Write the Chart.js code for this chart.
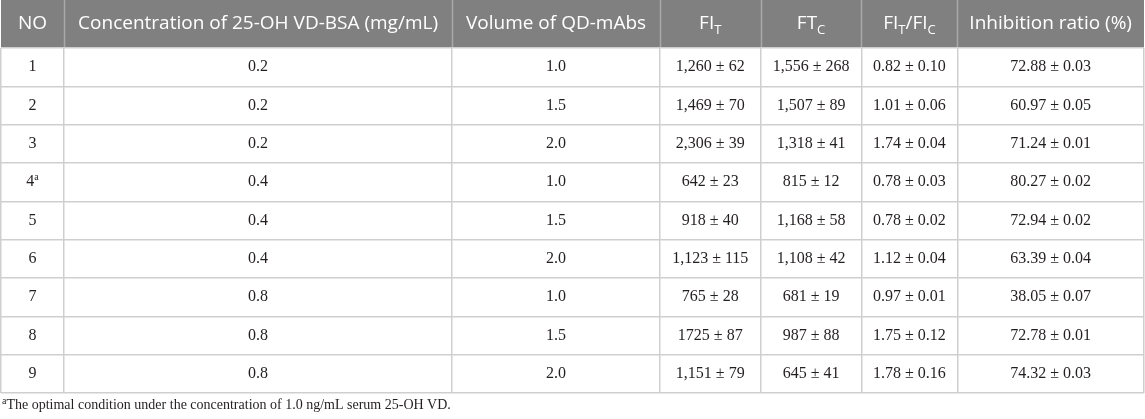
<!DOCTYPE html>
<html>
<head>
<meta charset="utf-8">
<script src="https://cdn.jsdelivr.net/npm/chart.js@4.4.0/dist/chart.umd.min.js"></script>
<style>
  html, body { margin: 0; padding: 0; background: #fff; }
  #wrap { width: 1145px; height: 419px; position: relative; }
</style>
</head>
<body>
<div id="wrap"><canvas id="chart"></canvas></div>

<script>
    // table data
    var rowLabels = ['1', '2', '3', '4', '5', '6', '7', '8', '9'];
    var concentration = ['0.2', '0.2', '0.2', '0.4', '0.4', '0.4', '0.8', '0.8', '0.8'];
    var volume = ['1.0', '1.5', '2.0', '1.0', '1.5', '2.0', '1.0', '1.5', '2.0'];
    var fiT = ['1,260 ± 62', '1,469 ± 70', '2,306 ± 39', '642 ± 23', '918 ± 40',
               '1,123 ± 115', '765 ± 28', '1725 ± 87', '1,151 ± 79'];
    var ftC = ['1,556 ± 268', '1,507 ± 89', '1,318 ± 41', '815 ± 12', '1,168 ± 58',
               '1,108 ± 42', '681 ± 19', '987 ± 88', '645 ± 41'];
    var ratio = ['0.82 ± 0.10', '1.01 ± 0.06', '1.74 ± 0.04', '0.78 ± 0.03', '0.78 ± 0.02',
                 '1.12 ± 0.04', '0.97 ± 0.01', '1.75 ± 0.12', '1.78 ± 0.16'];
    var inhibition = ['72.88 ± 0.03', '60.97 ± 0.05', '71.24 ± 0.01', '80.27 ± 0.02', '72.94 ± 0.02',
                      '63.39 ± 0.04', '38.05 ± 0.07', '72.78 ± 0.01', '74.32 ± 0.03'];
    var noteRow = '4';
    var footnote = 'The optimal condition under the concentration of 1.0 ng/mL serum 25-OH VD.';

    // header text, as runs: [text, 'sub'|'sup'|null]
    var headers = [
        [['NO']],
        [['Concentration of 25-OH VD-BSA (mg/mL)']],
        [['Volume of QD-mAbs']],
        [['FI'], ['T', 'sub']],
        [['FT'], ['C', 'sub']],
        [['FI'], ['T', 'sub'], ['/FI'], ['C', 'sub']],
        [['Inhibition ratio (%)']]
    ];

    // layout: column edges along the x scale
    var colEdges = [0, 63, 452, 660, 761, 862, 958, 1145];
    var columns = [rowLabels, concentration, volume, fiT, ftC, ratio, inhibition];

    var HEAD_H = 48;
    var BODY_FONT = '16px "Liberation Serif"';
    var BODY_SMALL = '10px "Liberation Serif"';
    var HEAD_FONT = '19px "Open Sans"';
    var HEAD_SMALL = '13px "Open Sans"';

    function drawRuns(ctx, runs, cx, cy, font, small) {
        var w = 0;
        runs.forEach(function(r) {
            ctx.font = r[1] ? small : font;
            w += ctx.measureText(r[0]).width;
        });
        var x = cx - w / 2;
        ctx.textAlign = 'left';
        ctx.textBaseline = 'middle';
        runs.forEach(function(r) {
            ctx.font = r[1] ? small : font;
            var dy = r[1] === 'sub' ? 6 : (r[1] === 'sup' ? -5 : 0);
            ctx.fillText(r[0], x, cy + dy);
            x += ctx.measureText(r[0]).width;
        });
    }

    var tablePlugin = {
        id: 'table',
        beforeDraw: function(chart) {
            var ctx = chart.ctx;
            var xs = chart.scales.x;
            var left = xs.getPixelForValue(colEdges[0]);
            var right = xs.getPixelForValue(colEdges[colEdges.length - 1]);
            var top = chart.chartArea.top;
            ctx.save();
            ctx.fillStyle = '#808080';
            ctx.fillRect(left, 0, right - left, top);
            ctx.strokeStyle = '#a9a9a9';
            ctx.lineWidth = 1.5;
            for (var i = 1; i < colEdges.length - 1; i++) {
                var px = Math.round(xs.getPixelForValue(colEdges[i])) + 0.5;
                ctx.beginPath();
                ctx.moveTo(px, 0);
                ctx.lineTo(px, top);
                ctx.stroke();
            }
            ctx.fillStyle = '#ffffff';
            headers.forEach(function(runs, i) {
                var cx = xs.getPixelForValue((colEdges[i] + colEdges[i + 1]) / 2);
                drawRuns(ctx, runs, cx, top / 2, HEAD_FONT, HEAD_SMALL);
            });
            ctx.restore();
        },
        afterDatasetsDraw: function(chart) {
            var ctx = chart.ctx;
            ctx.save();
            ctx.fillStyle = '#231f20';
            chart.data.datasets.forEach(function(ds, di) {
                var meta = chart.getDatasetMeta(di);
                meta.data.forEach(function(pt, j) {
                    var txt = ds.data[j].text;
                    var runs = [[txt]];
                    if (di === 0 && txt === noteRow) runs = [[txt], ['a', 'sup']];
                    drawRuns(ctx, runs, pt.x, pt.y, BODY_FONT, BODY_SMALL);
                });
            });
            // footnote
            ctx.font = BODY_SMALL;
            ctx.textAlign = 'left';
            ctx.textBaseline = 'middle';
            var fy = chart.chartArea.bottom + 12;
            ctx.fillText('a', 2, fy - 4);
            var aw = ctx.measureText('a').width;
            ctx.font = '14px "Liberation Serif"';
            ctx.fillText(footnote, 2 + aw, fy);
            ctx.restore();
        }
    };

    var datasets = columns.map(function(col, ci) {
        var cx = (colEdges[ci] + colEdges[ci + 1]) / 2;
        return {
            data: col.map(function(v, r) {
                return { x: cx, y: rowLabels[r], text: v };
            }),
            pointRadius: 0,
            pointHoverRadius: 0
        };
    });

    var ctx = document.getElementById('chart');
    new Chart(ctx, {
        type: 'scatter',
        data: { datasets: datasets },
        options: {
            responsive: true,
            maintainAspectRatio: false,
            animation: false,
            events: [],
            layout: { padding: { top: HEAD_H, bottom: 26, left: 1, right: 1 } },
            plugins: { legend: { display: false }, tooltip: { enabled: false } },
            scales: {
                x: {
                    type: 'linear',
                    min: colEdges[0],
                    max: colEdges[colEdges.length - 1],
                    afterBuildTicks: function(scale) {
                        scale.ticks = colEdges.map(function(v) { return { value: v }; });
                    },
                    ticks: { display: false },
                    grid: { color: '#cfcfcf', lineWidth: 1.5, drawTicks: false },
                    border: { display: false }
                },
                y: {
                    type: 'category',
                    labels: rowLabels,
                    offset: true,
                    ticks: { display: false },
                    grid: { offset: true, color: '#cfcfcf', lineWidth: 1.5, drawTicks: false },
                    border: { display: false }
                }
            }
        },
        plugins: [tablePlugin]
    });
</script>
</body>
</html>
